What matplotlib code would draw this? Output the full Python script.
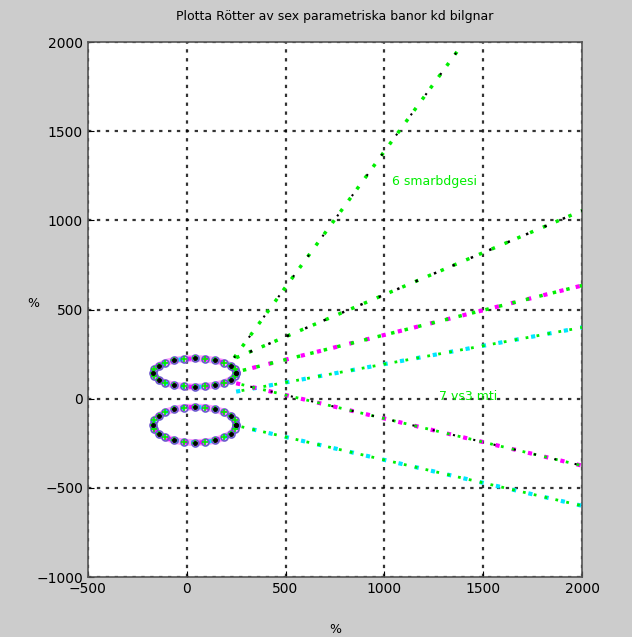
import matplotlib
matplotlib.use("Agg")
import matplotlib.pyplot as plt

# ---- data ----
title_text = "Plotta Rötter av sex parametriska banor kd bilgnar"
x_label = "%"
y_label = "%"
x_ticks = [-500, 0, 500, 1000, 1500, 2000]
y_ticks = [-1000, -500, 0, 500, 1000, 1500, 2000]

# upper ring of points
ring_up_x = [250, 243, 222, 188, 145, 94, 40, -14, -65, -108, -142, -163, -170,
             -163, -142, -108, -65, -14, 40, 94, 145, 188, 222, 243, 250]
ring_up_y = [146, 167, 186, 203, 215, 223, 226, 223, 215, 203, 186, 167, 146,
             125, 106, 89, 77, 69, 66, 69, 77, 89, 106, 125, 146]
# lower ring of points
ring_lo_x = [250, 243, 222, 188, 145, 94, 40, -14, -65, -108, -142, -163, -170,
             -163, -142, -108, -65, -14, 40, 94, 145, 188, 222, 243, 250]
ring_lo_y = [-146, -120, -96, -75, -59, -49, -46, -49, -59, -75, -96, -120, -146,
             -172, -196, -217, -233, -243, -246, -243, -233, -217, -196, -172, -146]

# branches leaving the rings (start, end)
steep_x = [240, 1370]
steep_y = [230, 1950]
g2_x = [250, 2000]
g2_y = [230, 1055]
g3_x = [250, 2000]
g3_y = [150, 635]
c1_x = [250, 2000]
c1_y = [40, 400]
m2_x = [250, 2000]
m2_y = [87, -375]
c2_x = [250, 2000]
c2_y = [-150, -600]

label1 = "6 smarbdgesi"
label1_pos = (1040, 1220)
label2 = "7 vs3 mti"
label2_pos = (1278, 10)

# ---- figure ----
fig = plt.figure(figsize=(6.32, 6.37), dpi=100, facecolor="#cccccc")
ax = fig.add_axes([0.139, 0.094, 0.782, 0.840])
ax.set_facecolor("white")

dots = (0, (1, 3))
dots2 = (2, (1, 3))
G = "#00ee00"
M = "#ff00ff"
C = "#00e5ff"

# rings
for rx, ry in [(ring_up_x, ring_up_y), (ring_lo_x, ring_lo_y)]:
    ax.plot(rx, ry, linestyle="-", color=M, lw=5, alpha=0.35, zorder=3)
    ax.plot(rx, ry, linestyle=dots, color=M, lw=3, zorder=3)
    ax.plot(rx, ry, linestyle=dots2, color=C, lw=3, zorder=3)
    ax.plot(rx, ry, linestyle="none", marker="o", ms=5, mfc="none", mec="#6a5acd", mew=1.2, zorder=4)
    ax.plot(rx, ry, linestyle="none", marker="+", ms=5, color=G, mew=1.2, zorder=4)
    ax.plot(rx[::2], ry[::2], linestyle="none", marker=".", ms=5, color="black", zorder=5)

# branches
ax.plot(steep_x, steep_y, linestyle=dots, color=G, lw=2.5, zorder=3)
ax.plot(steep_x, steep_y, linestyle=(0, (1, 11)), color="black", lw=1.5, zorder=3)

ax.plot(g2_x, g2_y, linestyle=dots, color=G, lw=2.5, zorder=3)
ax.plot(g2_x, g2_y, linestyle=(2, (1, 7)), color="black", lw=1.8, zorder=3)

ax.plot(g3_x, g3_y, linestyle=dots, color=M, lw=3, zorder=3)
ax.plot(g3_x, g3_y, linestyle=dots2, color=G, lw=2.5, zorder=3)

ax.plot(c1_x, c1_y, linestyle=dots, color=C, lw=3, zorder=3)
ax.plot(c1_x, c1_y, linestyle=dots2, color=G, lw=2, zorder=3)

ax.plot(m2_x, m2_y, linestyle=dots, color=M, lw=3, zorder=3)
ax.plot(m2_x, m2_y, linestyle=dots2, color=G, lw=2, zorder=3)
ax.plot(m2_x, m2_y, linestyle=(3, (1, 9)), color="black", lw=1.5, zorder=3)

ax.plot(c2_x, c2_y, linestyle=dots, color=C, lw=3, zorder=3)
ax.plot(c2_x, c2_y, linestyle=dots2, color=G, lw=2, zorder=3)

ax.text(*label1_pos, label1, color=G, fontsize=9, va="center", ha="left", zorder=6)
ax.text(*label2_pos, label2, color=G, fontsize=9, va="center", ha="left", zorder=6)

ax.set_xlim(x_ticks[0], x_ticks[-1])
ax.set_ylim(y_ticks[0], y_ticks[-1])
ax.set_xticks(x_ticks)
ax.set_yticks(y_ticks)
ax.tick_params(direction="in", length=4, labelsize=10, colors="black")
ax.grid(True, color="black", linestyle=(0, (1.5, 2.5)), linewidth=1.6, alpha=0.8)
ax.set_axisbelow(True)
for s in ax.spines.values():
    s.set_color("#555555")
    s.set_linewidth(1.2)

ax.set_title(title_text, fontsize=9, pad=16)
ax.set_xlabel(x_label, fontsize=9)
ax.set_ylabel(y_label, fontsize=9, rotation=0)
ax.yaxis.set_label_coords(-0.11, 0.5)
ax.xaxis.set_label_coords(0.5, -0.085)

fig.savefig("out.png", dpi=100, facecolor=fig.get_facecolor())
